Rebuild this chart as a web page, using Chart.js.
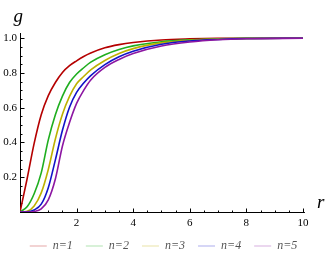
<!DOCTYPE html>
<html>
<head>
<meta charset="utf-8">
<script src="https://cdn.jsdelivr.net/npm/chart.js@4"></script>
<style>
html, body { margin: 0; padding: 0; background: #ffffff; }
#wrap { width: 327px; height: 260px; }
</style>
</head>
<body>
<div id="wrap"><canvas id="gChart"></canvas></div>
<script>
// values
var rValues = [0, 0.25, 0.5, 0.75, 1, 1.25, 1.5, 1.75, 2, 2.25, 2.5, 3, 3.5, 4, 5, 6, 7, 8, 10];
var gN1 = [0, 0.190, 0.395, 0.560, 0.670, 0.745, 0.803, 0.842, 0.870, 0.895, 0.915, 0.945, 0.963, 0.975, 0.990, 0.996, 0.999, 1, 1];
var gN2 = [0, 0.030, 0.105, 0.225, 0.415, 0.560, 0.667, 0.745, 0.794, 0.830, 0.862, 0.905, 0.935, 0.956, 0.980, 0.991, 0.996, 0.999, 1];
var gN3 = [0, 0.004, 0.035, 0.110, 0.245, 0.420, 0.562, 0.665, 0.738, 0.780, 0.818, 0.872, 0.912, 0.940, 0.973, 0.988, 0.995, 0.998, 1];
var gN4 = [0, 0.001, 0.012, 0.045, 0.140, 0.300, 0.470, 0.603, 0.688, 0.742, 0.785, 0.848, 0.893, 0.925, 0.965, 0.984, 0.993, 0.998, 1];
var gN5 = [0, 0.000, 0.003, 0.018, 0.070, 0.190, 0.380, 0.515, 0.625, 0.700, 0.760, 0.832, 0.878, 0.912, 0.955, 0.978, 0.991, 0.997, 1];
var seriesLabels = ["n=1", "n=2", "n=3", "n=4", "n=5"];

var xMajorTicks = [2, 4, 6, 8, 10];
var xMinorTicks = [0.5, 1, 1.5, 2.5, 3, 3.5, 4.5, 5, 5.5, 6.5, 7, 7.5, 8.5, 9, 9.5];
var yMajorTicks = [0.2, 0.4, 0.6, 0.8, 1.0];
var yMinorTicks = [0.05, 0.1, 0.15, 0.25, 0.3, 0.35, 0.45, 0.5, 0.55, 0.65, 0.7, 0.75, 0.85, 0.9, 0.95];

var lineColors = ["#b50000", "#1fae1f", "#bdb000", "#1212c8", "#8c16a2"];
var legendColors = ["rgba(181,0,0,0.35)", "rgba(31,174,31,0.35)", "rgba(189,176,0,0.35)", "rgba(18,18,200,0.35)", "rgba(140,22,162,0.35)"];

var X_MAX = 10.85;      // canvas runs to the right edge, axis line stops earlier
var X_AXIS_END = 10.07;
var Y_MAX = 1.03;

function toPoints(ys) {
    return rValues.map(function(r, i) { return { x: r, y: ys[i] }; });
}

var seriesValues = [gN1, gN2, gN3, gN4, gN5];

var gChart = {};

gChart.DATA = {
    datasets: seriesValues.map(function(vals, i) {
        return {
            label: seriesLabels[i],
            data: toPoints(vals),
            borderColor: lineColors[i],
            backgroundColor: lineColors[i],
            borderWidth: 1.6,
            pointRadius: 0,
            cubicInterpolationMode: "monotone",
            fill: false,
            order: seriesValues.length - 1 - i,
        };
    }),
};

// Mathematica-style axes: lines through the origin, ticks pointing inwards
gChart.axesPlugin = {
    id: "mmaAxes",
    beforeDatasetsDraw: function(chart) {
        var ctx = chart.ctx;
        var xs = chart.scales.x;
        var ys = chart.scales.y;
        var x0 = Math.round(xs.getPixelForValue(0)) + 0.5;
        var y0 = Math.round(ys.getPixelForValue(0)) + 0.5;
        var xEnd = xs.getPixelForValue(X_AXIS_END);
        var yTop = ys.getPixelForValue(Y_MAX);
        ctx.save();
        ctx.strokeStyle = "#000000";
        ctx.lineWidth = 1;
        ctx.beginPath();
        ctx.moveTo(x0 - 0.5, y0);
        ctx.lineTo(xEnd, y0);
        ctx.moveTo(x0, y0 + 0.5);
        ctx.lineTo(x0, yTop);
        xMajorTicks.forEach(function(v) {
            var px = Math.round(xs.getPixelForValue(v)) + 0.5;
            ctx.moveTo(px, y0);
            ctx.lineTo(px, y0 - 4);
        });
        xMinorTicks.forEach(function(v) {
            var px = Math.round(xs.getPixelForValue(v)) + 0.5;
            ctx.moveTo(px, y0);
            ctx.lineTo(px, y0 - 2);
        });
        yMajorTicks.forEach(function(v) {
            var py = Math.round(ys.getPixelForValue(v)) + 0.5;
            ctx.moveTo(x0, py);
            ctx.lineTo(x0 + 4, py);
        });
        yMinorTicks.forEach(function(v) {
            var py = Math.round(ys.getPixelForValue(v)) + 0.5;
            ctx.moveTo(x0, py);
            ctx.lineTo(x0 + 2, py);
        });
        ctx.stroke();

        // axis names
        ctx.fillStyle = "#000000";
        ctx.font = "italic 19px 'Liberation Serif'";
        ctx.textBaseline = "alphabetic";
        ctx.textAlign = "left";
        ctx.fillText("r", xEnd + 12, y0 - 5);
        ctx.fillText("g", x0 - 7, yTop - 11);
        ctx.restore();
    },
};

gChart.SCALES = {
    x: {
        type: "linear",
        min: 0,
        max: X_MAX,
        grid: { display: false, drawTicks: false },
        border: { display: false },
        afterBuildTicks: function(axis) {
            axis.ticks = xMajorTicks.map(function(v) { return { value: v }; });
        },
        afterFit: function(axis) {
            axis.height = 15;
        },
        ticks: {
            padding: 5,
            maxRotation: 0,
            autoSkip: false,
            color: "#000000",
            font: { family: "'Liberation Serif'", size: 11 },
            callback: function(value) { return String(value); },
        },
    },
    y: {
        type: "linear",
        min: 0,
        max: Y_MAX,
        grid: { display: false, drawTicks: false },
        border: { display: false },
        afterBuildTicks: function(axis) {
            axis.ticks = yMajorTicks.map(function(v) { return { value: v }; });
        },
        afterFit: function(axis) {
            axis.width = 20;
        },
        ticks: {
            padding: 3,
            autoSkip: false,
            color: "#000000",
            font: { family: "'Liberation Serif'", size: 11 },
            callback: function(value) { return Number(value).toFixed(1); },
        },
    },
};

gChart.PLUGINS = {
    legend: {
        position: "bottom",
        onClick: null,
        labels: {
            boxWidth: 17,
            boxHeight: 1,
            padding: 13,
            color: "#555555",
            font: { family: "'Liberation Serif'", size: 12, style: "italic" },
            generateLabels: function(chart) {
                return chart.data.datasets.map(function(ds, i) {
                    return {
                        text: ds.label,
                        fillStyle: legendColors[i],
                        strokeStyle: "rgba(0,0,0,0)",
                        lineWidth: 0,
                        fontColor: "#555555",
                        hidden: false,
                        datasetIndex: i,
                    };
                });
            },
        },
    },
    tooltip: { enabled: false },
};

gChart.CONFIG = {
    type: "line",
    data: gChart.DATA,
    options: {
        responsive: true,
        maintainAspectRatio: false,
        devicePixelRatio: 1,
        animation: false,
        events: [],
        layout: { padding: { top: 33, left: 0, right: 0, bottom: -2 } },
        plugins: gChart.PLUGINS,
        scales: gChart.SCALES,
    },
    plugins: [gChart.axesPlugin],
};

gChart.element = document.getElementById("gChart");
gChart.chart = new Chart(gChart.element, gChart.CONFIG);
</script>
</body>
</html>
